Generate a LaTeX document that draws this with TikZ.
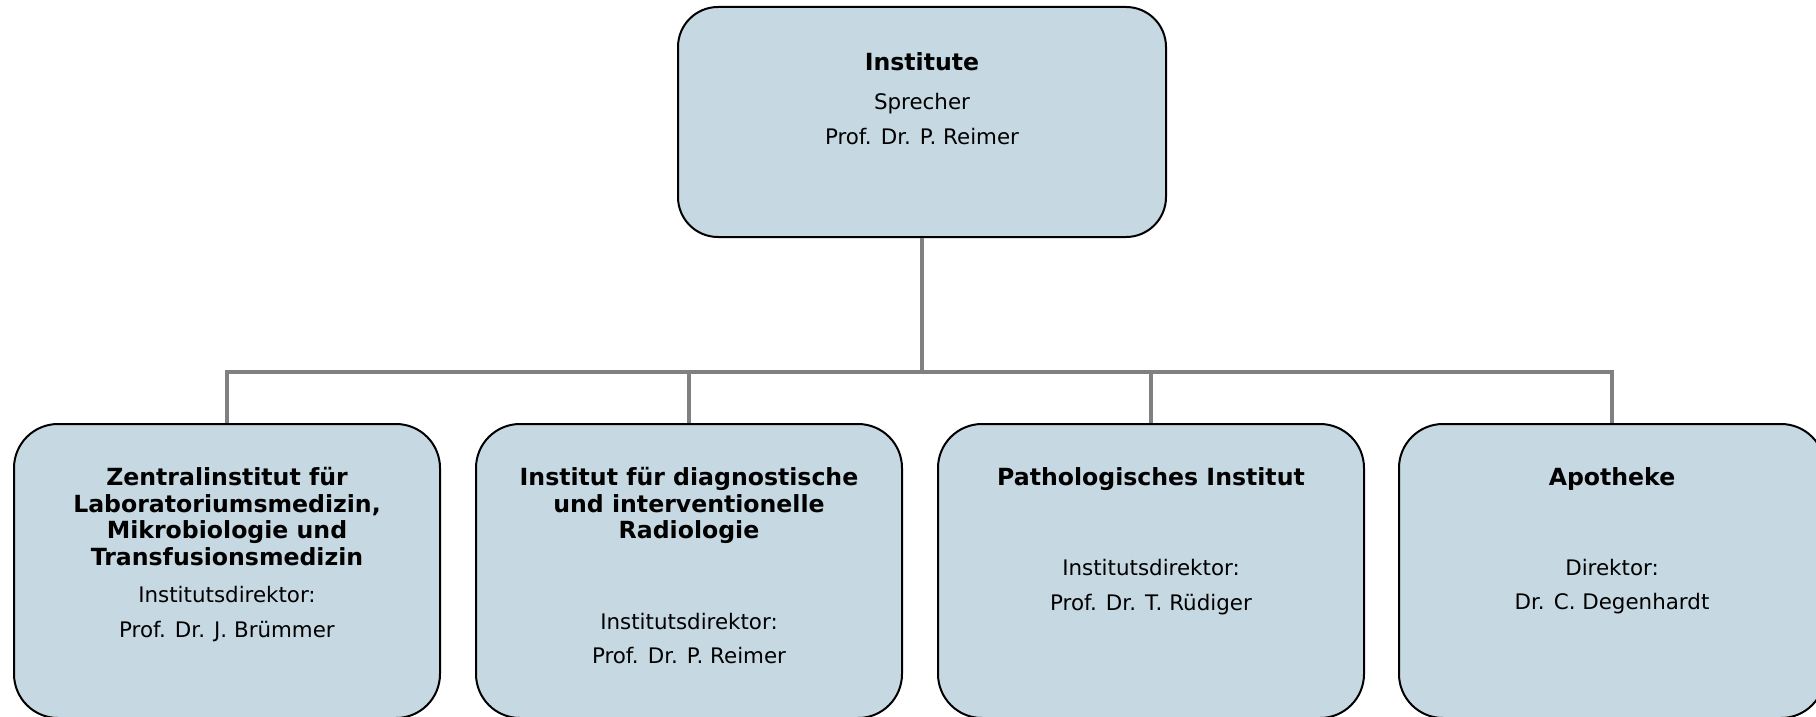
\documentclass[tikz,border=0pt]{standalone}
\usepackage{fontspec}
\setmainfont{DejaVu Sans}
\usetikzlibrary{positioning}
\definecolor{boxfill}{RGB}{198,216,226}
\definecolor{linkgray}{RGB}{128,128,128}

\begin{document}
\begin{tikzpicture}[x=0.5pt,y=-0.5pt,
          box/.style={draw,line width=1pt,fill=boxfill,rounded corners=22pt,
            minimum width=213pt,minimum height=147pt},
          head/.style={inner sep=0pt,align=center,font=\fontsize{11.8}{13.3}\selectfont\bfseries},
          sub/.style={inner sep=0pt,align=center,font=\fontsize{10.7}{17.3}\selectfont},
          link/.style={draw=linkgray,line width=2.25pt}
            ]
    \useasboundingbox (0,0) rectangle (1816,717);
    \node[box,minimum width=244pt,minimum height=115pt,rounded corners=20pt] (inst) at (922,122) {};
    \node[head,below=23.3pt of inst.north] (insth) {Institute};
    \node[sub,below=10.6pt of insth] (insts) {Sprecher\\Prof. Dr. P. Reimer};

    \node[box] (zi) at (227,571) {};
    \node[box] (rad) at (689,571) {};
    \node[box] (patho) at (1151,571) {};
    \node[box] (apo) at (1612,571) {};

    \node[head,below=22pt of zi.north] (zih) {Zentralinstitut für\\Laboratoriumsmedizin,\\Mikrobiologie und\\Transfusionsmedizin};
    \node[sub,below=9.9pt of zih] (zis) {Institutsdirektor:\\Prof. Dr. J. Brümmer};
    \node[head,below=22pt of rad.north] (radh) {Institut für diagnostische\\und interventionelle\\Radiologie};
    \node[sub,below=34pt of radh] (rads) {Institutsdirektor:\\Prof. Dr. P. Reimer};
    \node[head,below=22pt of patho.north] (pathoh) {Pathologisches Institut};
    \node[sub,below=34pt of pathoh] (pathos) {Institutsdirektor:\\Prof. Dr. T. Rüdiger};
    \node[head,below=22pt of apo.north] (apoh) {Apotheke};
    \node[sub,below=34pt of apoh] (apos) {Direktor:\\Dr. C. Degenhardt};

    \coordinate (hub) at (inst.south |- 0,372);
    \draw[link] (inst.south) -- (hub);
    \foreach \b in {zi,rad,patho,apo}
      \draw[link] (hub) -| (\b.north);
\end{tikzpicture}
\end{document}
